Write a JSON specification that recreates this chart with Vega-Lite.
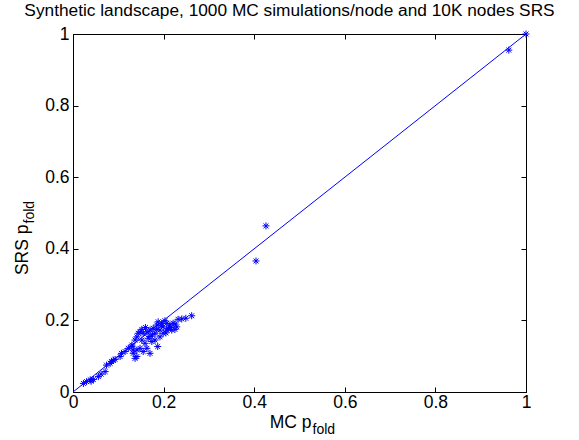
{
  "$schema": "https://vega.github.io/schema/vega-lite/v6.json",
  "width": 453,
  "height": 358,
  "autosize": "none",
  "padding": {"left": 73, "top": 34, "right": 53, "bottom": 48},
  "background": "white",
  "title": {"text": "Synthetic landscape, 1000 MC simulations/node and 10K nodes SRS", "fontSize": 17.3, "font": "Liberation Sans", "fontWeight": "normal", "anchor": "middle", "offset": 6, "color": "black", "dx": -10},
  "config": {
    "view": {"stroke": "black", "strokeWidth": 1},
    "axis": {"grid": false, "domainColor": "black", "tickColor": "black", "labelColor": "black", "titleColor": "black", "labelFont": "Liberation Sans", "titleFont": "Liberation Sans", "labelFontSize": 17.5, "titleFontSize": 17.5, "titleFontWeight": "normal", "tickSize": -5, "labelPadding": 8}
  },
  "layer": [
    {
      "data": {"values": [{"mc": 0, "srs": 0}, {"mc": 1, "srs": 1}]},
      "mark": {"type": "line", "color": "#0000ff", "strokeWidth": 1},
      "encoding": {
        "x": {"field": "mc", "type": "quantitative", "scale": {"domain": [0, 1], "nice": false}, "axis": {"orient": "top", "values": [0, 0.2, 0.4, 0.6, 0.8, 1], "labels": false, "title": "fold", "titleFontSize": 14, "titleX": 239, "titleY": 399, "titleAlign": "left", "titleBaseline": "alphabetic"}},
        "y": {"field": "srs", "type": "quantitative", "scale": {"domain": [0, 1], "nice": false}, "axis": {"orient": "right", "values": [0, 0.2, 0.4, 0.6, 0.8, 1], "labels": false, "title": "fold", "titleFontSize": 14, "titleX": -493, "titleY": 189, "titleAngle": 270, "titleAlign": "left", "titleBaseline": "alphabetic"}}
      }
    },
    {
      "data": {"values": [
        {"mc": 0.023, "srs": 0.024}, {"mc": 0.030, "srs": 0.029}, {"mc": 0.038, "srs": 0.034}, {"mc": 0.045, "srs": 0.035}, {"mc": 0.056, "srs": 0.043}, {"mc": 0.071, "srs": 0.057}, {"mc": 0.074, "srs": 0.075}, {"mc": 0.082, "srs": 0.080}, {"mc": 0.085, "srs": 0.085}, {"mc": 0.089, "srs": 0.089}, {"mc": 0.093, "srs": 0.091}, {"mc": 0.104, "srs": 0.099}, {"mc": 0.107, "srs": 0.108}, {"mc": 0.115, "srs": 0.113}, {"mc": 0.122, "srs": 0.122}, {"mc": 0.130, "srs": 0.127}, {"mc": 0.130, "srs": 0.131}, {"mc": 0.133, "srs": 0.117}, {"mc": 0.133, "srs": 0.108}, {"mc": 0.141, "srs": 0.099}, {"mc": 0.137, "srs": 0.094}, {"mc": 0.137, "srs": 0.145}, {"mc": 0.141, "srs": 0.154}, {"mc": 0.144, "srs": 0.164}, {"mc": 0.148, "srs": 0.168}, {"mc": 0.155, "srs": 0.164}, {"mc": 0.152, "srs": 0.145}, {"mc": 0.159, "srs": 0.136}, {"mc": 0.163, "srs": 0.122}, {"mc": 0.166, "srs": 0.150}, {"mc": 0.170, "srs": 0.173}, {"mc": 0.177, "srs": 0.178}, {"mc": 0.174, "srs": 0.141}, {"mc": 0.181, "srs": 0.164}, {"mc": 0.185, "srs": 0.187}, {"mc": 0.187, "srs": 0.127}, {"mc": 0.192, "srs": 0.173}, {"mc": 0.196, "srs": 0.192}, {"mc": 0.199, "srs": 0.182}, {"mc": 0.203, "srs": 0.199}, {"mc": 0.207, "srs": 0.192}, {"mc": 0.210, "srs": 0.178}, {"mc": 0.214, "srs": 0.187}, {"mc": 0.221, "srs": 0.192}, {"mc": 0.225, "srs": 0.175}, {"mc": 0.229, "srs": 0.182}, {"mc": 0.232, "srs": 0.203}, {"mc": 0.240, "srs": 0.204}, {"mc": 0.249, "srs": 0.206}, {"mc": 0.262, "srs": 0.213}, {"mc": 0.148, "srs": 0.122}, {"mc": 0.155, "srs": 0.113}, {"mc": 0.170, "srs": 0.108}, {"mc": 0.181, "srs": 0.145}, {"mc": 0.192, "srs": 0.154}, {"mc": 0.199, "srs": 0.164}, {"mc": 0.188, "srs": 0.196}, {"mc": 0.207, "srs": 0.173}, {"mc": 0.218, "srs": 0.173}, {"mc": 0.163, "srs": 0.168}, {"mc": 0.152, "srs": 0.175}, {"mc": 0.141, "srs": 0.117}, {"mc": 0.160, "srs": 0.180}, {"mc": 0.175, "srs": 0.160}, {"mc": 0.195, "srs": 0.185}, {"mc": 0.205, "srs": 0.165}, {"mc": 0.215, "srs": 0.180}, {"mc": 0.225, "srs": 0.190}, {"mc": 0.185, "srs": 0.175}, {"mc": 0.170, "srs": 0.155}, {"mc": 0.040, "srs": 0.030}, {"mc": 0.062, "srs": 0.050},
        {"mc": 0.404, "srs": 0.366}, {"mc": 0.426, "srs": 0.464}, {"mc": 0.962, "srs": 0.955}, {"mc": 1.0, "srs": 1.0}
      ]},
      "mark": {"type": "point", "shape": "M-1,0L1,0M0,-1L0,1M-0.7,-0.7L0.7,0.7M-0.7,0.7L0.7,-0.7", "filled": false, "stroke": "#0000ff", "strokeWidth": 1, "size": 49, "opacity": 1},
      "encoding": {
        "x": {"field": "mc", "type": "quantitative", "scale": {"domain": [0, 1], "nice": false}, "axis": {"orient": "bottom", "values": [0, 0.2, 0.4, 0.6, 0.8, 1], "format": "~g", "title": "MC p", "titleX": 238, "titleY": 35, "titleAlign": "right", "titleBaseline": "alphabetic", "labelFlush": false, "labelPadding": 6}},
        "y": {"field": "srs", "type": "quantitative", "scale": {"domain": [0, 1], "nice": false}, "axis": {"orient": "left", "values": [0, 0.2, 0.4, 0.6, 0.8, 1], "format": "~g", "title": "SRS p", "titleX": -46, "titleY": 190, "titleAngle": 270, "titleAlign": "right", "titleBaseline": "alphabetic", "labelFlush": false, "labelPadding": 9}}
      }
    }
  ],
  "resolve": {"axis": {"x": "independent", "y": "independent"}}
}
